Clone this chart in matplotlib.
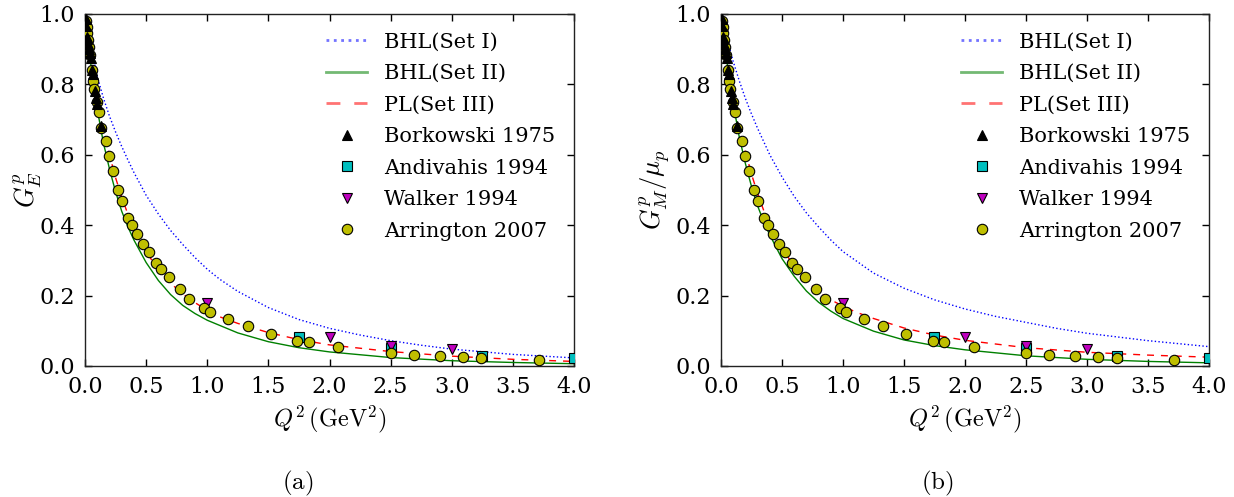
import numpy as np
import matplotlib
matplotlib.use("Agg")
import matplotlib.pyplot as plt

plt.rcParams['font.family'] = ['DejaVu Serif']
plt.rcParams['mathtext.fontset'] = 'cm'

# ---------------- data ----------------
# Model curves, panel (a): G_E^p
qa_set1 = [0.0, 0.025, 0.05, 0.1, 0.15, 0.2, 0.25, 0.3, 0.35, 0.4, 0.5, 0.6, 0.7, 0.8, 0.9, 1.0, 1.1,
           1.25, 1.5, 1.75, 2.0, 2.25, 2.5, 2.75, 3.0, 3.5, 4.0]
ge_set1 = [1.0, 0.95, 0.905, 0.823, 0.762, 0.71, 0.665, 0.624, 0.586, 0.55, 0.485, 0.432, 0.385, 0.345,
           0.308, 0.275, 0.247, 0.212, 0.166, 0.132, 0.107, 0.088, 0.072, 0.059, 0.048, 0.033, 0.023]
qa_set2 = [0.0, 0.025, 0.05, 0.1, 0.15, 0.2, 0.25, 0.3, 0.35, 0.4, 0.5, 0.6, 0.7, 0.8, 0.9, 1.0, 1.25,
           1.5, 1.75, 2.0, 2.5, 3.0, 3.5, 4.0]
ge_set2 = [1.0, 0.92, 0.85, 0.73, 0.635, 0.56, 0.495, 0.44, 0.396, 0.358, 0.294, 0.243, 0.203, 0.172,
           0.149, 0.130, 0.094, 0.069, 0.052, 0.040, 0.024, 0.015, 0.010, 0.0065]
qa_set3 = [0.0, 0.025, 0.05, 0.1, 0.15, 0.2, 0.25, 0.3, 0.35, 0.4, 0.5, 0.6, 0.7, 0.8, 0.9, 1.0, 1.1,
           1.25, 1.5, 1.75, 2.0, 2.5, 3.0, 3.5, 4.0]
ge_set3 = [1.0, 0.93, 0.87, 0.765, 0.675, 0.60, 0.535, 0.48, 0.432, 0.39, 0.325, 0.273, 0.235, 0.205,
           0.18, 0.158, 0.14, 0.121, 0.095, 0.075, 0.060, 0.041, 0.028, 0.019, 0.013]

# Model curves, panel (b): G_M^p / mu_p
qb_set1 = [0.0, 0.025, 0.05, 0.1, 0.15, 0.2, 0.25, 0.3, 0.4, 0.5, 0.6, 0.7, 0.8, 0.9, 1.0, 1.25, 1.5,
           1.75, 2.0, 2.25, 2.5, 2.75, 3.0, 3.5, 4.0]
gm_set1 = [1.0, 0.965, 0.93, 0.865, 0.81, 0.76, 0.716, 0.675, 0.60, 0.537, 0.482, 0.435, 0.395, 0.358,
           0.325, 0.264, 0.221, 0.188, 0.162, 0.141, 0.124, 0.107, 0.093, 0.072, 0.055]
qb_set2 = [0.0, 0.025, 0.05, 0.1, 0.15, 0.2, 0.25, 0.3, 0.35, 0.4, 0.5, 0.6, 0.7, 0.8, 0.9, 1.0, 1.25,
           1.5, 1.75, 2.0, 2.5, 3.0, 3.5, 4.0]
gm_set2 = [1.0, 0.925, 0.86, 0.745, 0.65, 0.575, 0.51, 0.455, 0.41, 0.372, 0.305, 0.255, 0.213, 0.181,
           0.156, 0.135, 0.099, 0.074, 0.058, 0.046, 0.029, 0.019, 0.013, 0.009]
qb_set3 = [0.0, 0.025, 0.05, 0.1, 0.15, 0.2, 0.25, 0.3, 0.35, 0.4, 0.5, 0.6, 0.7, 0.8, 0.9, 1.0, 1.1,
           1.25, 1.5, 1.75, 2.0, 2.5, 3.0, 3.5, 4.0]
gm_set3 = [1.0, 0.935, 0.875, 0.775, 0.685, 0.61, 0.545, 0.49, 0.442, 0.40, 0.335, 0.283, 0.243, 0.21,
           0.188, 0.170, 0.154, 0.135, 0.108, 0.088, 0.073, 0.052, 0.039, 0.031, 0.025]

# Experimental data (same points appear in both panels)
bork_q = [0.005, 0.010, 0.014, 0.020, 0.027, 0.035, 0.041, 0.052, 0.060, 0.068, 0.080, 0.088, 0.097, 0.128]
bork_g = [0.985, 0.965, 0.93, 0.935, 0.915, 0.90, 0.89, 0.875, 0.84, 0.83, 0.78, 0.762, 0.745, 0.683]

andi_q = [1.75, 2.50, 3.25, 4.00, 5.00]
andi_g = [0.082, 0.050, 0.028, 0.022, 0.012]

walk_q = [1.00, 2.00, 2.50, 3.00]
walk_g = [0.178, 0.082, 0.056, 0.047]

arr_q = [0.008, 0.014, 0.019, 0.027, 0.033, 0.041, 0.054, 0.068, 0.077, 0.101, 0.115, 0.134, 0.172, 0.199,
         0.232, 0.267, 0.300, 0.349, 0.387, 0.425, 0.472, 0.524, 0.584, 0.619, 0.687, 0.780, 0.854, 0.976,
         1.022, 1.173, 1.331, 1.519, 1.737, 1.830, 2.072, 2.500, 2.691, 2.904, 3.089, 3.242, 3.714]
arr_g = [0.981, 0.964, 0.945, 0.925, 0.907, 0.884, 0.841, 0.810, 0.786, 0.751, 0.721, 0.677, 0.640, 0.597,
         0.553, 0.500, 0.470, 0.421, 0.401, 0.374, 0.348, 0.324, 0.292, 0.276, 0.253, 0.220, 0.189, 0.165,
         0.154, 0.133, 0.114, 0.091, 0.071, 0.067, 0.055, 0.036, 0.031, 0.027, 0.025, 0.022, 0.017]

xticks = [0.0, 0.5, 1.0, 1.5, 2.0, 2.5, 3.0, 3.5, 4.0]
yticks = [0.0, 0.2, 0.4, 0.6, 0.8, 1.0]
line_labels = ["BHL(Set I)", "BHL(Set II)", "PL(Set III)"]
data_labels = ["Borkowski 1975", "Andivahis 1994", "Walker 1994", "Arrington 2007"]

# ---------------- figure ----------------
W, H = 1234, 497
fig = plt.figure(figsize=(W / 100, H / 100), dpi=100)
ax1 = fig.add_axes([85 / W, 131 / H, 489 / W, 352 / H])
ax2 = fig.add_axes([721 / W, 131 / H, 488 / W, 352 / H])

FS_TICK = 16
FS_LEG = 15


def draw(ax, curves, ylabel, ylab_x):
    (q1, g1), (q2, g2), (q3, g3) = curves
    ax.plot(q1, g1, color='blue', ls=':', lw=1.0, label=line_labels[0], zorder=2)
    ax.plot(q2, g2, color='green', ls='-', lw=1.0, label=line_labels[1], zorder=2)
    ax.plot(q3, g3, color='red', ls=(0, (5, 5)), lw=1.0, label=line_labels[2], zorder=2)
    ax.plot(bork_q, bork_g, ls='none', marker='^', ms=7.5, mfc='black', mec='black', mew=0.8,
            label=data_labels[0], zorder=5)
    ax.plot(andi_q, andi_g, ls='none', marker='s', ms=6.5, mfc='c', mec='black', mew=0.8,
            label=data_labels[1], zorder=3)
    ax.plot(walk_q, walk_g, ls='none', marker='v', ms=7.5, mfc='m', mec='black', mew=0.8,
            label=data_labels[2], zorder=3)
    ax.plot(arr_q, arr_g, ls='none', marker='o', ms=7.5, mfc='y', mec='black', mew=0.8,
            label=data_labels[3], zorder=4)
    ax.set_xlim(0, 4)
    ax.set_ylim(0, 1)
    ax.set_xticks(xticks)
    ax.set_yticks(yticks)
    ax.set_xticklabels([f"{t:.1f}" for t in xticks])
    ax.set_yticklabels([f"{t:.1f}" for t in yticks])
    ax.tick_params(direction='in', top=True, right=True, length=5, width=1,
                   labelsize=FS_TICK, pad=7)
    for s in ax.spines.values():
        s.set_linewidth(1.0)
        s.set_color('#222222')
    ax.set_xlabel(r'$Q^2\,(\mathrm{GeV}^2)$', fontsize=17.5)
    ax.set_ylabel(ylabel, fontsize=19)
    ax.xaxis.set_label_coords(0.5, -0.107)
    ax.yaxis.set_label_coords(ylab_x, 0.5)
    leg = ax.legend(loc='upper right', frameon=False, fontsize=FS_LEG, handlelength=2.0,
                    numpoints=1, labelspacing=0.6, handletextpad=0.8,
                    borderaxespad=0.5)
    for h in leg.legend_handles[:3]:
        h.set_alpha(0.55)
        h.set_linewidth(2.0)


draw(ax1, [(qa_set1, ge_set1), (qa_set2, ge_set2), (qa_set3, ge_set3)], r'$G_E^p$', -0.084)
draw(ax2, [(qb_set1, gm_set1), (qb_set2, gm_set2), (qb_set3, gm_set3)], r'$G_M^p/\mu_p$', -0.100)

fig.text(298 / W, 1 - 483 / H, r'$\mathrm{(a)}$', ha='center', va='center', fontsize=18)
fig.text(937 / W, 1 - 483 / H, r'$\mathrm{(b)}$', ha='center', va='center', fontsize=18)

fig.savefig('out.png', dpi=100)
